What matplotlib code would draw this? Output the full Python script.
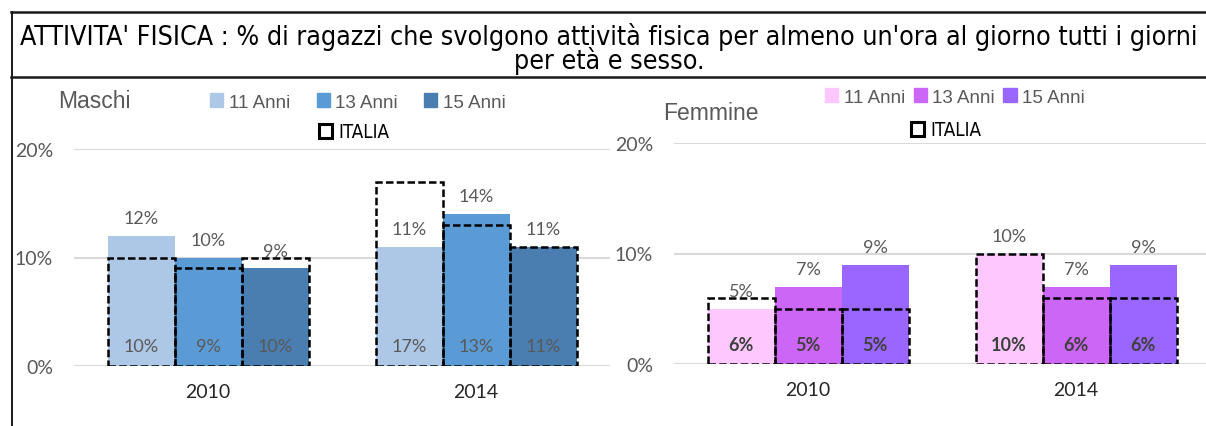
import matplotlib
matplotlib.use("Agg")
import matplotlib.pyplot as plt
import matplotlib.patches as mpatches
import numpy as np

W, H = 1206, 427

TITLE = ("ATTIVITA' FISICA : % di ragazzi che svolgono attività fisica per almeno un'ora al giorno tutti i giorni\n"
         "per età e sesso.")
YEARS = ["2010", "2014"]
AGES = ["11 Anni", "13 Anni", "15 Anni"]

# regional values (coloured bars) and Italia (dashed outlines)
maschi = [[12, 11], [10, 14], [9, 11]]
maschi_italia = [[10, 17], [9, 13], [10, 11]]
femmine = [[5, 10], [7, 7], [9, 9]]
femmine_italia = [[6, 10], [5, 6], [5, 6]]

BLUES = ["#adc7e6", "#5b9bd5", "#4a7db0"]
PURPLES = ["#fdc8fd", "#cc66f7", "#9966ff"]

NARROW = ["DejaVu Sans"]
BODY = ["Lato", "DejaVu Sans"]
GRAY = "#595959"


def fx(x):
    return x / W


def fy(y):
    return 1 - y / H


def panel(fig, rect, vals, ital, colors, inner_style):
    left, top, right, bottom = rect
    ax = fig.add_axes([fx(left), fy(bottom), fx(right - left), (bottom - top) / H])
    x = np.arange(len(YEARS))
    bw = 0.25
    for i in range(len(AGES)):
        xs = x + (i - 1) * bw
        ax.bar(xs, vals[i], bw, color=colors[i], zorder=2)
        ax.bar(xs, ital[i], bw, fill=False, edgecolor="black", linestyle=(0, (3, 1.3)),
               linewidth=1.8, zorder=3)
        for j in range(len(YEARS)):
            ax.text(xs[j], vals[i][j] + 0.9, f"{vals[i][j]}%", ha="center", va="bottom",
                    fontsize=13, color=GRAY, family=BODY, zorder=4)
            ax.text(xs[j], 1.8, f"{ital[i][j]}%", ha="center", va="center", zorder=4,
                    family=BODY, **inner_style)
    ax.set_xlim(-0.5, 1.5)
    ax.set_ylim(0, 20)
    ax.set_yticks([0, 10, 20])
    ax.set_yticklabels(["0%", "10%", "20%"], family=BODY, fontsize=14, color=GRAY)
    ax.set_xticks(x)
    ax.set_xticklabels(YEARS, family=BODY, fontsize=14, color="#262626")
    ax.tick_params(axis="y", length=0, pad=15)
    ax.tick_params(axis="x", length=0, pad=12)
    ax.grid(axis="y", color="#d9d9d9", linewidth=1.5, zorder=0)
    ax.set_axisbelow(True)
    for s in ax.spines.values():
        s.set_visible(False)
    ax.patch.set_alpha(0)
    return ax


def legends(fig, colors, cx, cy, cx2, cy2, colspace):
    handles = [mpatches.Patch(color=c, label=a) for c, a in zip(colors, AGES)]
    leg = fig.legend(handles=handles, loc="center", bbox_to_anchor=(fx(cx), fy(cy)), ncol=3,
                     frameon=False, handlelength=0.7, handleheight=0.7, handletextpad=0.3,
                     columnspacing=colspace,
                     prop={"family": ["Liberation Sans", "DejaVu Sans"], "size": 13.5})
    for t in leg.get_texts():
        t.set_color(GRAY)
    ital = mpatches.Patch(facecolor="none", edgecolor="black", linewidth=2.2, label="ITALIA")
    fig.legend(handles=[ital], loc="center", bbox_to_anchor=(fx(cx2), fy(cy2)),
               frameon=False, handlelength=0.7, handleheight=0.7, handletextpad=0.3,
               prop={"family": NARROW, "size": 13.5, "stretch": "condensed"})


fig = plt.figure(figsize=(W / 100, H / 100), dpi=100)

# title box
fig.add_artist(plt.Line2D([fx(11), 1], [fy(13), fy(13)], color="#1a1a1a", linewidth=1.8))
fig.add_artist(plt.Line2D([fx(11), 1], [fy(78), fy(78)], color="#1a1a1a", linewidth=1.8))
fig.add_artist(plt.Line2D([fx(12), fx(12)], [fy(13), 0], color="#1a1a1a", linewidth=1.4))
fig.text(fx(609), fy(49), TITLE, ha="center", va="center", family=NARROW,
         fontstretch="condensed", fontsize=19.2, linespacing=0.8, color="black")

panel(fig, (74, 150, 610, 367), maschi, maschi_italia, BLUES,
      {"fontsize": 13, "color": GRAY})
panel(fig, (674, 144, 1210, 365), femmine, femmine_italia, PURPLES,
      {"fontsize": 13, "color": "#404040", "fontweight": "bold"})

fig.text(fx(58), fy(101), "Maschi", ha="left", va="center",
         family=["Liberation Sans", "DejaVu Sans"], fontsize=16.5, color=GRAY)
fig.text(fx(663), fy(113), "Femmine", ha="left", va="center",
         family=["Liberation Sans", "DejaVu Sans"], fontsize=16.5, color=GRAY)

legends(fig, BLUES, 358, 103, 354, 133, 1.4)
legends(fig, PURPLES, 955, 98, 946, 131, 0.45)

fig.savefig("out.png", dpi=100)
